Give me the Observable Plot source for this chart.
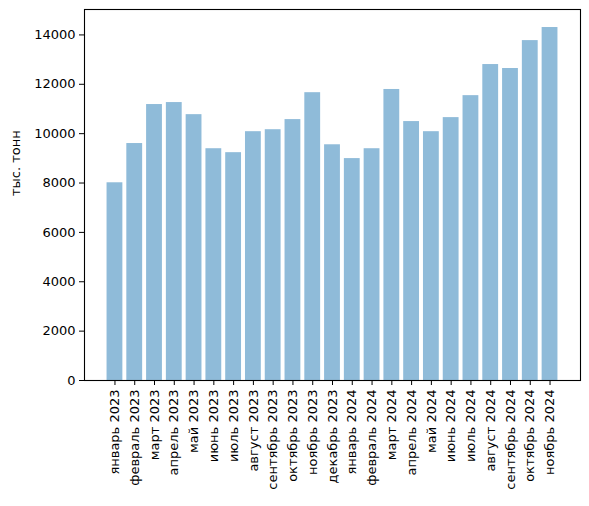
<!DOCTYPE html>
<html>
<head>
<meta charset="utf-8">
<script src="https://cdn.jsdelivr.net/npm/d3@7"></script>
<script src="https://cdn.jsdelivr.net/npm/@observablehq/plot@0.6"></script>
<style>
  body { margin: 0; background: #fff; }
  #chart svg { display: block; }
</style>
</head>
<body>
<div id="chart"></div>
<script>
const months = [
    "январь 2023", "февраль 2023", "март 2023", "апрель 2023", "май 2023", "июнь 2023",
    "июль 2023", "август 2023", "сентябрь 2023", "октябрь 2023", "ноябрь 2023", "декабрь 2023",
    "январь 2024", "февраль 2024", "март 2024", "апрель 2024", "май 2024", "июнь 2024",
    "июль 2024", "август 2024", "сентябрь 2024", "октябрь 2024", "ноябрь 2024"
];
const volumes = [
    8010, 9600, 11180, 11260, 10770, 9390,
    9230, 10080, 10160, 10570, 11660, 9550,
    8990, 9390, 11790, 10490, 10080, 10650,
    11540, 12800, 12640, 13770, 14300
];
const yTicks = [0, 2000, 4000, 6000, 8000, 10000, 12000, 14000];

const rows = months.map((m, i) => ({month: m, value: volumes[i]}));

const chart = Plot.plot({
    width: 589,
    height: 506,
    marginLeft: 84,
    marginRight: 9,
    marginTop: 9,
    marginBottom: 126,
    style: {fontFamily: "DejaVu Sans", fontSize: "13px", color: "#000", background: "#fff"},
    x: {domain: months, paddingInner: 0.2, paddingOuter: 1.14, align: 0.5, round: false},
    y: {domain: [0, 15030]},
    marks: [
        Plot.barY(rows, {x: "month", y: "value", fill: "#8fbbd9"}),
        Plot.frame({stroke: "#000", strokeWidth: 1.1}),
        Plot.axisX({
            tickRotate: -90, tickSize: 5, tickPadding: 4, label: null,
            fontSize: 13, fill: "#000"
        }),
        Plot.axisY({
            ticks: yTicks, tickSize: 5, tickPadding: 4, tickFormat: d => String(d),
            label: null, fontSize: 13, fill: "#000"
        }),
        Plot.text(["тыс. тонн"], {
            frameAnchor: "left", dx: -69, dy: 1, rotate: -90, fontSize: 13, fill: "#000"
        })
    ]
});

document.getElementById("chart").appendChild(chart);
</script>
</body>
</html>
